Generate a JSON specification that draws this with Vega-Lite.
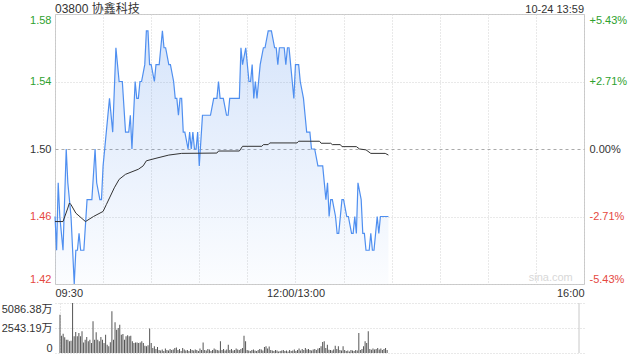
{
  "$schema": "https://vega.github.io/schema/vega-lite/v6.json",
  "padding": {"left": 1, "top": 2, "right": 0, "bottom": 0},
  "spacing": 3,
  "config": {
    "font": "Liberation Sans, Noto Sans CJK SC",
    "axis": {"labelFont": "Liberation Sans, Noto Sans CJK SC", "labelFontSize": 11, "labelColor": "#333", "ticks": false, "domain": false, "title": null, "gridColor": "#d2d2d2", "gridDash": [1, 2], "labelOverlap": false},
    "view": {"stroke": "#c8c8c8"}
  },
  "datasets": {
    "price": [
      {"m":0,"p":1.46},{"m":1,"p":1.44},{"m":2,"p":1.48},{"m":3,"p":1.46},{"m":5,"p":1.44},{"m":7,"p":1.50},{"m":8,"p":1.48},{"m":10,"p":1.46},{"m":12,"p":1.42},{"m":13,"p":1.44},{"m":14,"p":1.44},{"m":15,"p":1.45},{"m":16,"p":1.44},{"m":18,"p":1.44},{"m":20,"p":1.47},{"m":23,"p":1.47},{"m":25,"p":1.50},{"m":26,"p":1.48},{"m":28,"p":1.47},{"m":29,"p":1.47},{"m":30,"p":1.49},{"m":31,"p":1.50},{"m":34,"p":1.53},{"m":36,"p":1.51},{"m":38,"p":1.56},{"m":40,"p":1.54},{"m":42,"p":1.54},{"m":44,"p":1.51},{"m":46,"p":1.51},{"m":47,"p":1.52},{"m":48,"p":1.50},{"m":50,"p":1.54},{"m":51,"p":1.53},{"m":52,"p":1.53},{"m":53,"p":1.54},{"m":54,"p":1.54},{"m":56,"p":1.55},{"m":57,"p":1.57},{"m":58,"p":1.57},{"m":59,"p":1.55},{"m":60,"p":1.55},{"m":62,"p":1.54},{"m":63,"p":1.55},{"m":65,"p":1.55},{"m":66,"p":1.56},{"m":67,"p":1.57},{"m":68,"p":1.56},{"m":69,"p":1.56},{"m":71,"p":1.55},{"m":72,"p":1.55},{"m":74,"p":1.54},{"m":75,"p":1.53},{"m":76,"p":1.53},{"m":77,"p":1.52},{"m":78,"p":1.53},{"m":79,"p":1.53},{"m":80,"p":1.51},{"m":81,"p":1.51},{"m":83,"p":1.50},{"m":84,"p":1.51},{"m":85,"p":1.50},{"m":86,"p":1.51},{"m":87,"p":1.50},{"m":88,"p":1.50},{"m":89,"p":1.51},{"m":90,"p":1.49},{"m":92,"p":1.52},{"m":97,"p":1.52},{"m":99,"p":1.53},{"m":101,"p":1.53},{"m":102,"p":1.54},{"m":103,"p":1.53},{"m":105,"p":1.53},{"m":107,"p":1.52},{"m":108,"p":1.52},{"m":109,"p":1.53},{"m":115,"p":1.53},{"m":116,"p":1.56},{"m":117,"p":1.55},{"m":119,"p":1.56},{"m":121,"p":1.54},{"m":122,"p":1.54},{"m":123,"p":1.55},{"m":124,"p":1.53},{"m":125,"p":1.54},{"m":126,"p":1.53},{"m":128,"p":1.55},{"m":130,"p":1.56},{"m":131,"p":1.56},{"m":133,"p":1.57},{"m":135,"p":1.57},{"m":137,"p":1.56},{"m":138,"p":1.56},{"m":139,"p":1.55},{"m":140,"p":1.56},{"m":143,"p":1.56},{"m":144,"p":1.55},{"m":145,"p":1.56},{"m":146,"p":1.56},{"m":147,"p":1.55},{"m":148,"p":1.54},{"m":149,"p":1.53},{"m":150,"p":1.55},{"m":152,"p":1.55},{"m":153,"p":1.54},{"m":155,"p":1.53},{"m":156,"p":1.52},{"m":157,"p":1.51},{"m":159,"p":1.51},{"m":160,"p":1.50},{"m":162,"p":1.50},{"m":164,"p":1.49},{"m":167,"p":1.49},{"m":169,"p":1.47},{"m":170,"p":1.48},{"m":171,"p":1.46},{"m":172,"p":1.47},{"m":173,"p":1.47},{"m":175,"p":1.46},{"m":176,"p":1.45},{"m":177,"p":1.45},{"m":179,"p":1.47},{"m":180,"p":1.47},{"m":182,"p":1.46},{"m":183,"p":1.46},{"m":185,"p":1.45},{"m":186,"p":1.45},{"m":187,"p":1.46},{"m":188,"p":1.45},{"m":189,"p":1.48},{"m":191,"p":1.47},{"m":192,"p":1.45},{"m":193,"p":1.45},{"m":194,"p":1.44},{"m":196,"p":1.44},{"m":197,"p":1.45},{"m":198,"p":1.44},{"m":199,"p":1.44},{"m":201,"p":1.46},{"m":202,"p":1.45},{"m":203,"p":1.46},{"m":208,"p":1.46}
    ],
    "avg": [
      {"m":0,"a":1.457},{"m":5,"a":1.457},{"m":8,"a":1.465},{"m":9,"a":1.468},{"m":10,"a":1.467},{"m":13,"a":1.462},{"m":19,"a":1.457},{"m":24,"a":1.46},{"m":30,"a":1.463},{"m":32,"a":1.467},{"m":34,"a":1.471},{"m":37,"a":1.477},{"m":40,"a":1.482},{"m":44,"a":1.485},{"m":52,"a":1.488},{"m":55,"a":1.49},{"m":57,"a":1.493},{"m":63,"a":1.4945},{"m":71,"a":1.4964},{"m":79,"a":1.4974},{"m":101,"a":1.4976},{"m":102,"a":1.4988},{"m":115,"a":1.4988},{"m":117,"a":1.5016},{"m":129,"a":1.5016},{"m":130,"a":1.5026},{"m":133,"a":1.5026},{"m":134,"a":1.5036},{"m":151,"a":1.5036},{"m":152,"a":1.5046},{"m":165,"a":1.5046},{"m":166,"a":1.5034},{"m":172,"a":1.5034},{"m":173,"a":1.5026},{"m":178,"a":1.5026},{"m":179,"a":1.5014},{"m":188,"a":1.5014},{"m":190,"a":1.5},{"m":194,"a":1.4995},{"m":197,"a":1.4974},{"m":206,"a":1.4974},{"m":208,"a":1.4964}
    ],
    "vol": [
      {"m":0,"v":3900},{"m":1,"v":1760},{"m":2,"v":1970},{"m":3,"v":1590},{"m":4,"v":1360},{"m":5,"v":1360},{"m":6,"v":1190},{"m":7,"v":1250},{"m":8,"v":5086},{"m":9,"v":1700},{"m":10,"v":2140},{"m":11,"v":1700},{"m":12,"v":2030},{"m":13,"v":1700},{"m":14,"v":2200},{"m":15,"v":1080},{"m":16,"v":1360},{"m":17,"v":1630},{"m":18,"v":1190},{"m":19,"v":1360},{"m":20,"v":1020},{"m":21,"v":3220},{"m":22,"v":1360},{"m":23,"v":2100},{"m":24,"v":1360},{"m":25,"v":1190},{"m":26,"v":1630},{"m":27,"v":1360},{"m":28,"v":1020},{"m":29,"v":1860},{"m":30,"v":850},{"m":31,"v":680},{"m":32,"v":1100},{"m":33,"v":4240},{"m":34,"v":1360},{"m":35,"v":3120},{"m":36,"v":2370},{"m":37,"v":2540},{"m":38,"v":2880},{"m":39,"v":1860},{"m":40,"v":1930},{"m":41,"v":1360},{"m":42,"v":1700},{"m":43,"v":1800},{"m":44,"v":1700},{"m":45,"v":1760},{"m":46,"v":1190},{"m":47,"v":1020},{"m":48,"v":1080},{"m":49,"v":1080},{"m":50,"v":1020},{"m":51,"v":1080},{"m":52,"v":1190},{"m":53,"v":1020},{"m":54,"v":750},{"m":55,"v":680},{"m":56,"v":780},{"m":57,"v":2480},{"m":58,"v":1020},{"m":59,"v":500},
      {"m":60,"v":680},{"m":61,"v":400},{"m":62,"v":600},{"m":63,"v":300},{"m":64,"v":250},{"m":65,"v":350},{"m":66,"v":200},{"m":67,"v":450},{"m":68,"v":300},{"m":69,"v":250},{"m":70,"v":400},{"m":71,"v":300},{"m":72,"v":350},{"m":73,"v":500},{"m":74,"v":550},{"m":75,"v":300},{"m":76,"v":400},{"m":77,"v":200},{"m":78,"v":500},{"m":79,"v":350},{"m":80,"v":250},{"m":81,"v":300},{"m":82,"v":200},{"m":83,"v":400},{"m":84,"v":300},{"m":85,"v":250},{"m":86,"v":350},{"m":87,"v":300},{"m":88,"v":200},{"m":89,"v":450},{"m":90,"v":300},{"m":91,"v":1080},{"m":92,"v":300},{"m":93,"v":250},{"m":94,"v":400},{"m":95,"v":350},{"m":96,"v":200},{"m":97,"v":300},{"m":98,"v":450},{"m":99,"v":350},{"m":100,"v":300},{"m":101,"v":250},{"m":102,"v":1190},{"m":103,"v":300},{"m":104,"v":400},{"m":105,"v":250},{"m":106,"v":350},{"m":107,"v":850},{"m":108,"v":300},{"m":109,"v":400},{"m":110,"v":250},{"m":111,"v":300},{"m":112,"v":450},{"m":113,"v":350},{"m":114,"v":300},{"m":115,"v":400},{"m":116,"v":500},{"m":117,"v":1760},{"m":118,"v":1190},{"m":119,"v":300},{"m":120,"v":250},{"m":121,"v":200},{"m":122,"v":300},{"m":123,"v":350},{"m":124,"v":250},{"m":125,"v":200},{"m":126,"v":300},{"m":127,"v":400},{"m":128,"v":350},{"m":129,"v":250},{"m":130,"v":600},{"m":131,"v":680},{"m":132,"v":450},{"m":133,"v":650},{"m":134,"v":300},{"m":135,"v":250},{"m":136,"v":200},{"m":137,"v":300},{"m":138,"v":250},{"m":139,"v":150},{"m":140,"v":200},{"m":141,"v":250},{"m":142,"v":300},{"m":143,"v":200},{"m":144,"v":250},{"m":145,"v":150},{"m":146,"v":300},{"m":147,"v":200},{"m":148,"v":250},{"m":149,"v":350},{"m":150,"v":200},{"m":151,"v":300},{"m":152,"v":450},{"m":153,"v":250},{"m":154,"v":400},{"m":155,"v":300},{"m":156,"v":500},{"m":157,"v":350},{"m":158,"v":400},{"m":159,"v":300},{"m":160,"v":250},{"m":161,"v":350},{"m":162,"v":400},{"m":163,"v":300},{"m":164,"v":450},{"m":165,"v":500},
      {"m":166,"v":680},{"m":167,"v":1120},{"m":168,"v":1190},{"m":169,"v":500},{"m":170,"v":850},{"m":171,"v":340},{"m":172,"v":300},{"m":173,"v":250},{"m":174,"v":350},{"m":175,"v":750},{"m":176,"v":400},{"m":177,"v":680},{"m":178,"v":300},{"m":179,"v":250},{"m":180,"v":680},{"m":181,"v":300},{"m":182,"v":200},{"m":183,"v":250},{"m":184,"v":150},{"m":185,"v":300},{"m":186,"v":250},{"m":187,"v":200},{"m":188,"v":300},{"m":189,"v":250},{"m":190,"v":2030},{"m":191,"v":300},{"m":192,"v":400},{"m":193,"v":680},{"m":194,"v":1190},{"m":195,"v":1020},{"m":196,"v":2200},{"m":197,"v":400},{"m":198,"v":340},{"m":199,"v":450},{"m":200,"v":350},{"m":201,"v":400},{"m":202,"v":500},{"m":203,"v":350},{"m":204,"v":450},{"m":205,"v":300},{"m":206,"v":400},{"m":207,"v":500},{"m":208,"v":300}
    ],
    "labels": [
      {"m":0,"y":1.58,"t":"03800 协鑫科技","k":"title"},
      {"m":330,"y":1.58,"t":"10-24 13:59","k":"date"},
      {"m":323,"y":1.42,"t":"sina.com","k":"mark"}
    ]
  },
  "vconcat": [
    {
      "width": 529,
      "height": 270,
      "encoding": {
        "x": {"field": "m", "type": "quantitative", "scale": {"domain": [0, 330], "nice": false, "zero": false},
          "axis": {"values": [0,30,60,90,120,150,180,210,240,270,300,330], "grid": true, "labelFlush": true, "labelPadding": 3,
            "labelExpr": "datum.value == 0 ? '09:30' : datum.value == 150 ? '12:00/13:00' : datum.value == 330 ? '16:00' : ''"}}
      },
      "layer": [
        {
          "data": {"name": "price"},
          "mark": {"type": "area", "fill": {"gradient": "linear", "x1": 0, "y1": 0, "x2": 0, "y2": 1, "stops": [{"offset": 0, "color": "rgba(70,135,235,0.22)"}, {"offset": 1, "color": "rgba(70,135,235,0.02)"}]}},
          "encoding": {
            "y": {"field": "p", "type": "quantitative", "scale": {"domain": [1.42, 1.58], "nice": false, "zero": false},
              "axis": {"values": [1.42, 1.46, 1.5, 1.54, 1.58], "format": ".2f", "labelFlush": true, "labelPadding": 4, "grid": true,
                "labelColor": {"condition": [{"test": "datum.value > 1.505", "value": "#2ea12e"}, {"test": "datum.value < 1.495", "value": "#e5483f"}], "value": "#333"},
                "gridDash": {"condition": {"test": "abs(datum.value - 1.5) < 0.001", "value": [3, 3]}, "value": [1, 2]},
                "gridColor": {"condition": {"test": "abs(datum.value - 1.5) < 0.001", "value": "#aaaaaa"}, "value": "#d2d2d2"}}},
            "y2": {"datum": 1.42}
          }
        },
        {
          "data": {"name": "price"},
          "mark": {"type": "line", "color": "#4f8ff0", "strokeWidth": 1.2},
          "encoding": {"y": {"field": "p", "type": "quantitative", "axis": null}}
        },
        {
          "data": {"name": "avg"},
          "mark": {"type": "line", "color": "#333333", "strokeWidth": 1},
          "encoding": {"y": {"field": "a", "type": "quantitative",
            "axis": {"orient": "right", "values": [1.42, 1.46, 1.5, 1.54, 1.58], "grid": false, "labelFlush": true, "labelPadding": 5,
              "labelColor": {"condition": [{"test": "datum.value > 1.505", "value": "#2ea12e"}, {"test": "datum.value < 1.495", "value": "#e5483f"}], "value": "#333"},
              "labelExpr": "abs(datum.value-1.58)<0.001 ? '+5.43%' : abs(datum.value-1.54)<0.001 ? '+2.71%' : abs(datum.value-1.5)<0.001 ? '0.00%' : abs(datum.value-1.46)<0.001 ? '-2.71%' : '-5.43%'"}}}
        },
        {
          "data": {"name": "labels"},
          "transform": [{"filter": "datum.k == 'title'"}],
          "mark": {"type": "text", "align": "left", "baseline": "bottom", "dy": 2, "fontSize": 12, "color": "#333"},
          "encoding": {"y": {"field": "y", "type": "quantitative", "axis": null}, "text": {"field": "t"}}
        },
        {
          "data": {"name": "labels"},
          "transform": [{"filter": "datum.k == 'date'"}],
          "mark": {"type": "text", "align": "right", "baseline": "bottom", "dy": 1, "fontSize": 11, "color": "#333"},
          "encoding": {"y": {"field": "y", "type": "quantitative", "axis": null}, "text": {"field": "t"}}
        },
        {
          "data": {"name": "labels"},
          "transform": [{"filter": "datum.k == 'mark'"}],
          "mark": {"type": "text", "align": "right", "baseline": "bottom", "dy": -1, "fontSize": 11, "color": "#d8d8d8"},
          "encoding": {"y": {"field": "y", "type": "quantitative", "axis": null}, "text": {"field": "t"}}
        }
      ],
      "resolve": {"axis": {"y": "independent"}}
    },
    {
      "width": 529,
      "height": 50,
      "view": {"stroke": null},
      "layer": [
        {
          "data": {"name": "vol"},
          "mark": {"type": "bar", "width": 1, "color": "#555555"},
          "encoding": {
            "x": {"field": "m", "type": "quantitative", "scale": {"domain": [0, 330], "nice": false, "zero": false},
              "axis": {"values": [0], "grid": true, "labels": false}},
            "y": {"field": "v", "type": "quantitative", "scale": {"domain": [0, 5086.38], "nice": false},
              "axis": {"values": [0, 2543.19, 5086.38], "grid": true, "labelFlush": true, "labelPadding": 3,
                "labelExpr": "datum.value == 0 ? '0' : format(datum.value, '.2f') + '万'"}}
          }
        },
        {
          "data": {"values": [{"m": 330}]},
          "mark": {"type": "rule", "color": "#c8c8c8"},
          "encoding": {"x": {"field": "m", "type": "quantitative"}}
        }
      ]
    }
  ]
}
